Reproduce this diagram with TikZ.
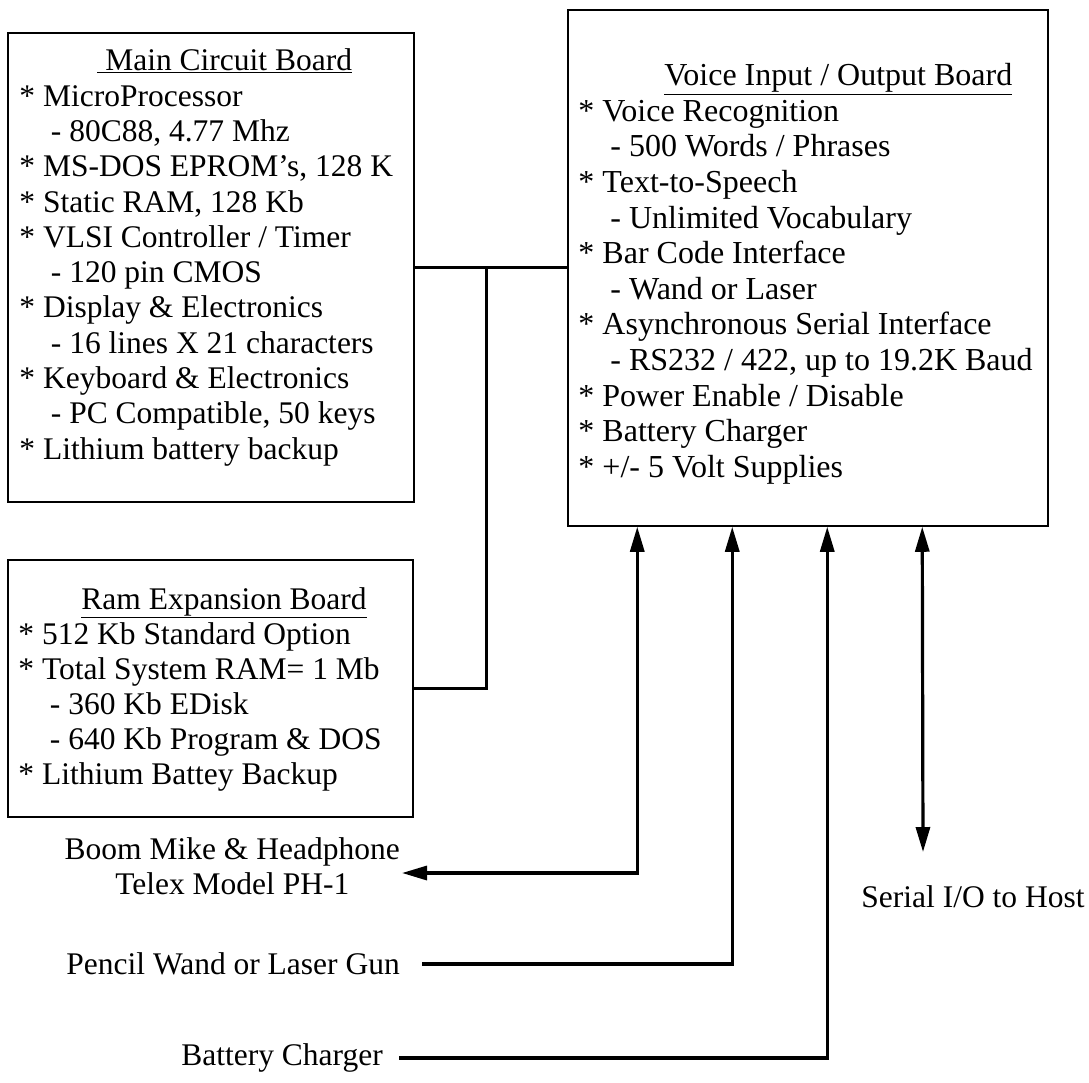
\documentclass[tikz,border=0pt]{standalone}
\usepackage{fontspec}
\setmainfont{Liberation Serif}
\usetikzlibrary{arrows.meta,positioning}
\tikzstyle{boardbox}=[rectangle, draw=black, line width=1.5pt, inner sep=0pt]
\tikzstyle{boardtext}=[anchor=north west, align=left, inner sep=0pt, font=\fontsize{31.5}{35.3}\selectfont]
\tikzstyle{extlabel}=[align=center, inner sep=2pt, font=\fontsize{31.5}{35}\selectfont]
\tikzstyle{busline}=[line width=3pt]
\tikzstyle{sigarrow}=[line width=3.2pt, >={Triangle[length=25pt,width=14pt]}]
\newcommand{\bdash}{\hspace*{1em}- }

\begin{document}
\begin{tikzpicture}[x=1pt,y=-1pt]
    \useasboundingbox (0,0) rectangle (1089,1082);

    % Placas
    \node[boardbox, minimum width=406pt, minimum height=469pt] (mainbox) at (211,267.5) {};
    \node[boardbox, minimum width=480pt, minimum height=516pt] (vio) at (808,268) {};
    \node[boardbox, minimum width=405pt, minimum height=257pt] (rambox) at (210.5,688.5) {};

    % Textos das placas
    \node[boardtext] (maintext) at ([xshift=12pt,yshift=-16.5pt]mainbox.north west)
      {\hspace*{78pt}\underline{\ Main Circuit Board}\\
       * MicroProcessor\\
       \bdash 80C88, 4.77 Mhz\\
       * MS-DOS EPROM's, 128 K\\
       * Static RAM, 128 Kb\\
       * VLSI Controller / Timer\\
       \bdash 120 pin CMOS\\
       * Display \& Electronics\\
       \bdash 16 lines X 21 characters\\
       * Keyboard \& Electronics\\
       \bdash PC Compatible, 50 keys\\
       * Lithium battery backup};

    \node[boardtext, font=\fontsize{32}{35.6}\selectfont] (viotext) at ([xshift=11pt,yshift=-54pt]vio.north west)
      {\hspace*{86pt}\underline{Voice Input / Output Board}\\
       * Voice Recognition\\
       \bdash 500 Words / Phrases\\
       * Text-to-Speech\\
       \bdash Unlimited Vocabulary\\
       * Bar Code Interface\\
       \bdash Wand or Laser\\
       * Asynchronous Serial Interface\\
       \bdash RS232 / 422, up to 19.2K Baud\\
       * Power Enable / Disable\\
       * Battery Charger\\
       * +/- 5 Volt Supplies};

    \node[boardtext, font=\fontsize{31.5}{35}\selectfont] (ramtext) at ([xshift=11pt,yshift=-28pt]rambox.north west)
      {\hspace*{63pt}\underline{Ram Expansion Board}\\
       * 512 Kb Standard Option\\
       * Total System RAM= 1 Mb\\
       \bdash 360 Kb EDisk\\
       \bdash 640 Kb Program \& DOS\\
       * Lithium Battey Backup};

    % Rótulos externos
    \node[extlabel, anchor=east] (boom) at (402,866)
      {Boom Mike \& Headphone\\ Telex Model PH-1};
    \node[extlabel, anchor=east] (pencil) at (402,964) {Pencil Wand or Laser Gun};
    \node[extlabel, anchor=east] (charger) at (385,1058) {Battery Charger};
    \node[extlabel] (serial) at (973,897) {Serial I/O to Host};

    % Barramento entre placas
    \coordinate (busjoin) at (486,267.5);
    \draw[busline] (mainbox.east) -- (mainbox.east -| vio.west);
    \draw[busline] (rambox.east) -| (busjoin);

    % Portas da placa de voz
    \coordinate (mikeport) at ([xshift=70pt]vio.south west);
    \coordinate (wandport) at ([xshift=165pt]vio.south west);
    \coordinate (chgport) at ([xshift=260pt]vio.south west);
    \coordinate (hostport) at ([xshift=355pt]vio.south west);
    \coordinate (hostend) at (923,852);

    % Setas de sinal
    \draw[sigarrow, <->] (mikeport) |- ([yshift=-7pt]boom.east);
    \draw[sigarrow, ->, shorten <=20pt] (pencil.east) -| (wandport);
    \draw[sigarrow, ->, shorten <=14pt] (charger.east) -| (chgport);
    \draw[sigarrow, <->] (hostport) -- (hostend);
  \end{tikzpicture}
\end{document}
